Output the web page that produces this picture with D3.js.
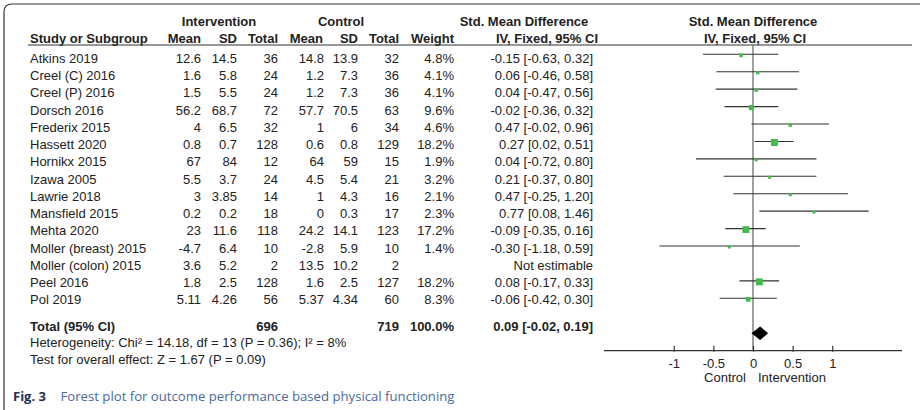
<!DOCTYPE html>
<html>
<head>
<meta charset="utf-8">
<script src="https://cdn.jsdelivr.net/npm/d3@7"></script>
<style>
  html, body { margin: 0; padding: 0; background: #fff; }
  svg { display: block; }
  text { font-family: "Liberation Sans", Arial, sans-serif; font-size: 13px; fill: #222; }
</style>
</head>
<body>
<svg id="chart" width="920" height="410"></svg>
<script>
// ---------- data ----------
const studies = ["Atkins 2019", "Creel (C) 2016", "Creel (P) 2016", "Dorsch 2016", "Frederix 2015",
  "Hassett 2020", "Hornikx 2015", "Izawa 2005", "Lawrie 2018", "Mansfield 2015", "Mehta 2020",
  "Moller (breast) 2015", "Moller (colon) 2015", "Peel 2016", "Pol 2019"];
const intMean  = [12.6, 1.6, 1.5, 56.2, 4, 0.8, 67, 5.5, 3, 0.2, 23, -4.7, 3.6, 1.8, 5.11];
const intSD    = [14.5, 5.8, 5.5, 68.7, 6.5, 0.7, 84, 3.7, 3.85, 0.2, 11.6, 6.4, 5.2, 2.5, 4.26];
const intTotal = [36, 24, 24, 72, 32, 128, 12, 24, 14, 18, 118, 10, 2, 128, 56];
const ctlMean  = [14.8, 1.2, 1.2, 57.7, 1, 0.6, 64, 4.5, 1, 0, 24.2, -2.8, 13.5, 1.6, 5.37];
const ctlSD    = [13.9, 7.3, 7.3, 70.5, 6, 0.8, 59, 5.4, 4.3, 0.3, 14.1, 5.9, 10.2, 2.5, 4.34];
const ctlTotal = [32, 36, 36, 63, 34, 129, 15, 21, 16, 17, 123, 10, 2, 127, 60];
const weights  = [4.8, 4.1, 4.1, 9.6, 4.6, 18.2, 1.9, 3.2, 2.1, 2.3, 17.2, 1.4, null, 18.2, 8.3];
const smd      = [-0.15, 0.06, 0.04, -0.02, 0.47, 0.27, 0.04, 0.21, 0.47, 0.77, -0.09, -0.30, null, 0.08, -0.06];
const ciLow    = [-0.63, -0.46, -0.47, -0.36, -0.02, 0.02, -0.72, -0.37, -0.25, 0.08, -0.35, -1.18, null, -0.17, -0.42];
const ciHigh   = [0.32, 0.58, 0.56, 0.32, 0.96, 0.51, 0.80, 0.80, 1.20, 1.46, 0.16, 0.59, null, 0.33, 0.30];
const totalInt = 696, totalCtl = 719, totalWeight = 100.0;
const pooled = { est: 0.09, lo: -0.02, hi: 0.19 };
const axisTicks = [-1, -0.5, 0, 0.5, 1];
const heterogeneityText = "Heterogeneity: Chi² = 14.18, df = 13 (P = 0.36); I² = 8%";
const overallText = "Test for overall effect: Z = 1.67 (P = 0.09)";
const captionBold = "Fig. 3";
const captionText = "Forest plot for outcome performance based physical functioning";

// ---------- layout ----------
const svg = d3.select("#chart");
const n = studies.length;
const yText = d3.scaleLinear().domain([0, n - 1]).range([58.3, 299.8]);
const yPlot = d3.scaleLinear().domain([0, n - 1]).range([54.3, 298.3]);
const x = d3.scaleLinear().domain([-1.88, 1.88]).range([604, 902]);
const sq = d3.scaleSqrt().domain([0, 18.2]).range([0, 7]);
const green = "#45b94a";

const cols = {
  iMean: 201, iSD: 237, iTot: 278, cMean: 324, cSD: 358, cTot: 399, w: 454, ci: 593
};

// frame
svg.append("path")
  .attr("d", "M4,414 L4,12 Q4,4 12,4 L924,4")
  .attr("fill", "none").attr("stroke", "#333").attr("stroke-width", 1.2);

// header
function txt(xp, yp, s, anchor, bold, extra) {
  const t = svg.append("text").attr("x", xp).attr("y", yp).attr("dy", "0.35em")
    .attr("text-anchor", anchor || "start").text(s);
  if (bold) t.attr("font-weight", "bold");
  return t;
}
txt(219, 21.5, "Intervention", "middle", true);
txt(341, 21.5, "Control", "middle", true);
txt(524, 21.5, "Std. Mean Difference", "middle", true);
txt(753, 21.5, "Std. Mean Difference", "middle", true);
txt(30, 38.5, "Study or Subgroup", "start", true);
txt(cols.iMean, 38.5, "Mean", "end", true);
txt(cols.iSD, 38.5, "SD", "end", true);
txt(cols.iTot, 38.5, "Total", "end", true);
txt(cols.cMean - 1, 38.5, "Mean", "end", true);
txt(cols.cSD, 38.5, "SD", "end", true);
txt(cols.cTot, 38.5, "Total", "end", true);
txt(cols.w, 38.5, "Weight", "end", true);
txt(598, 38.5, "IV, Fixed, 95% CI", "end", true);
txt(755, 38.5, "IV, Fixed, 95% CI", "middle", true);

svg.append("line").attr("x1", 28).attr("x2", 912).attr("y1", 45).attr("y2", 45)
  .attr("stroke", "#333").attr("stroke-width", 1.2);

// zero line
svg.append("line").attr("x1", x(0)).attr("x2", x(0)).attr("y1", 45).attr("y2", 351)
  .attr("stroke", "#777").attr("stroke-width", 1.4);

// study rows
const rows = d3.range(n);
rows.forEach(i => {
  const yt = yText(i);
  txt(30, yt, studies[i]);
  txt(cols.iMean, yt, String(intMean[i]), "end");
  txt(cols.iSD, yt, String(intSD[i]), "end");
  txt(cols.iTot, yt, String(intTotal[i]), "end");
  txt(cols.cMean, yt, String(ctlMean[i]), "end");
  txt(cols.cSD, yt, String(ctlSD[i]), "end");
  txt(cols.cTot, yt, String(ctlTotal[i]), "end");
  if (weights[i] !== null) txt(cols.w, yt, weights[i].toFixed(1) + "%", "end");
  if (smd[i] !== null) {
    txt(cols.ci, yt, `${smd[i].toFixed(2)} [${ciLow[i].toFixed(2)}, ${ciHigh[i].toFixed(2)}]`, "end");
  } else {
    txt(cols.ci, yt, "Not estimable", "end");
  }
});

// CI lines and squares
const g = svg.append("g");
const valid = rows.filter(i => smd[i] !== null);
g.selectAll("line.ci").data(valid).join("line").attr("class", "ci")
  .attr("x1", i => x(ciLow[i])).attr("x2", i => x(ciHigh[i]))
  .attr("y1", i => yPlot(i)).attr("y2", i => yPlot(i))
  .attr("stroke", "#333").attr("stroke-width", 1.1);
g.selectAll("rect.sq").data(valid).join("rect").attr("class", "sq")
  .attr("width", i => Math.max(3, sq(weights[i])))
  .attr("height", i => Math.max(3, sq(weights[i])))
  .attr("x", i => x(smd[i]) - Math.max(3, sq(weights[i])) / 2)
  .attr("y", i => yPlot(i) + 1 - Math.max(3, sq(weights[i])) / 2)
  .attr("fill", green);

// total row
const yTot = 326.7;
txt(30, yTot, "Total (95% CI)", "start", true);
txt(cols.iTot, yTot, String(totalInt), "end", true);
txt(cols.cTot, yTot, String(totalCtl), "end", true);
txt(cols.w, yTot, totalWeight.toFixed(1) + "%", "end", true);
txt(cols.ci, yTot, `${pooled.est.toFixed(2)} [${pooled.lo.toFixed(2)}, ${pooled.hi.toFixed(2)}]`, "end", true);
const yDia = 333.3, hDia = 6.8;
svg.append("path")
  .attr("d", `M${x(pooled.lo)},${yDia} L${x(pooled.est)},${yDia - hDia} L${x(pooled.hi)},${yDia} L${x(pooled.est)},${yDia + hDia} Z`)
  .attr("fill", "#000");

txt(30, 342.7, heterogeneityText);
txt(30, 359.8, overallText);

// axis
const axisY = 350.7;
const axis = d3.axisBottom(x).tickValues(axisTicks).tickSize(-5).tickPadding(9)
  .tickFormat(d => String(d));
const ag = svg.append("g").attr("transform", `translate(0,${axisY})`).call(axis);
ag.select(".domain").attr("d", `M${x.range()[0]},0H${x.range()[1]}`).attr("stroke", "#333").attr("stroke-width", 1.2);
ag.selectAll(".tick line").attr("stroke", "#333").attr("stroke-width", 1.2).attr("y2", -5).attr("y1", 1);
ag.selectAll(".tick text").attr("font-family", null).attr("font-size", null).attr("fill", "#222")
  .attr("y", 12.3).attr("dy", "0.35em");
ag.attr("font-family", null).attr("font-size", null);

txt(746, 377.5, "Control", "end");
txt(758, 377.5, "Intervention", "start");

// caption
const cap = svg.append("g");
cap.append("text").attr("x", 13).attr("y", 396).attr("dy", "0.35em")
  .style("font-family", "'Open Sans', 'Noto Sans', sans-serif").style("font-weight", "bold")
  .style("font-size", "13px").style("fill", "#1e2f55").text(captionBold);
const ct = cap.append("text").attr("x", 60.5).attr("y", 396).attr("dy", "0.35em")
  .style("font-family", "'Open Sans', 'Noto Sans', sans-serif")
  .style("font-size", "13px").style("fill", "#4a6a9c").text(captionText);
// fit caption width to the reference (~394px)
const len = ct.node().getComputedTextLength();
if (len > 0) ct.style("font-size", (13 * 394 / len).toFixed(2) + "px");
</script>
</body>
</html>
